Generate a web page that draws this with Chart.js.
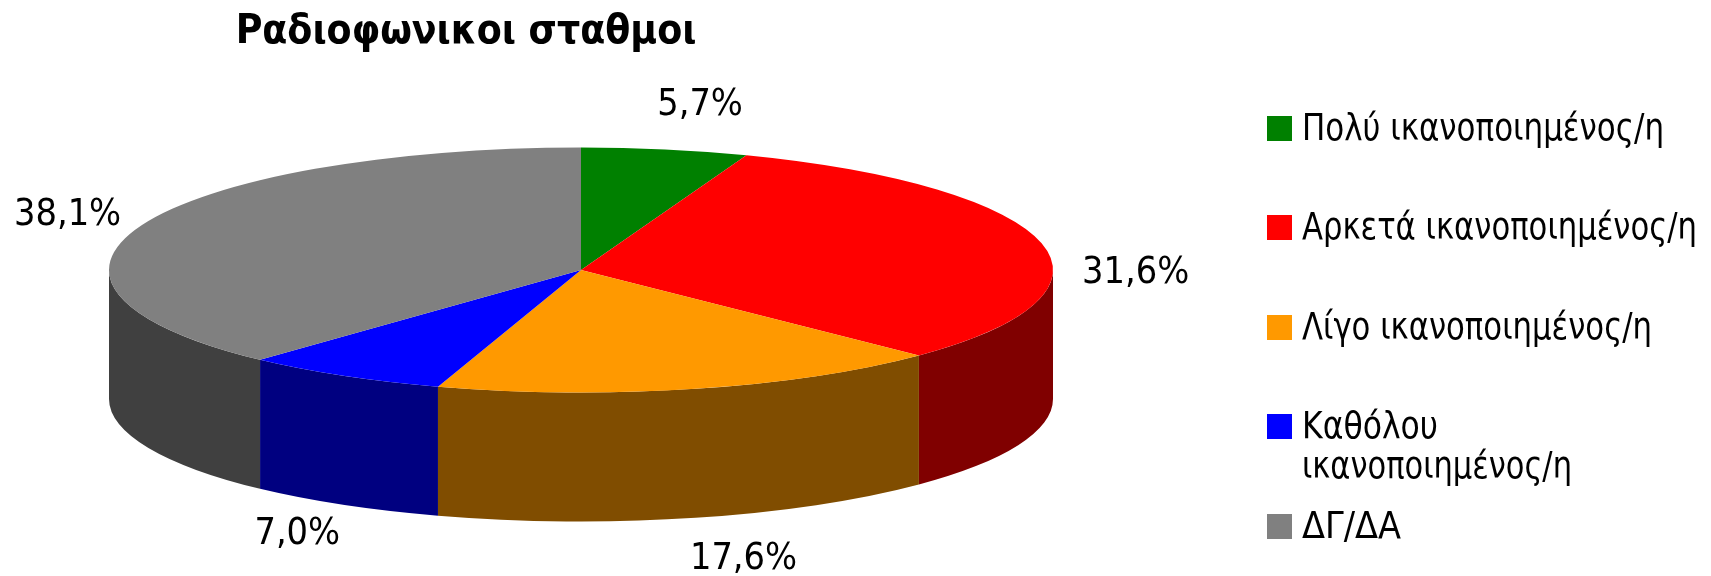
<!DOCTYPE html>
<html>
<head>
<meta charset="utf-8">
<title>Ραδιοφωνικοι σταθμοι</title>
<style>
  html, body { margin: 0; padding: 0; background: #fff; }
  canvas { display: block; }
</style>
<script src="https://cdn.jsdelivr.net/npm/chart.js@4"></script>
</head>
<body>
<canvas id="pie" width="1711" height="576"></canvas>
<script>
const chartTitle = "Ραδιοφωνικοι σταθμοι";
const categories = [
  "Πολύ ικανοποιημένος/η",
  "Αρκετά ικανοποιημένος/η",
  "Λίγο ικανοποιημένος/η",
  "Καθόλου ικανοποιημένος/η",
  "ΔΓ/ΔΑ",
];
const values = [5.7, 31.6, 17.6, 7.0, 38.1];
const sliceColors = ["#008000", "#ff0000", "#ff9900", "#0000ff", "#808080"];
const sideColors = ["#004000", "#800000", "#804d00", "#000080", "#404040"];

// where the flattened pie sits on the page
const PIE = { x: 581, y: 270, rx: 472, ry: 122.5, depth: 129 };
// label position relative to the slice's rim point
const labelNudge = [[35, -44], [94, 30], [48, 170], [-46, 158], [-74, -10]];
const legendLines = [
  ["Πολύ ικανοποιημένος/η"],
  ["Αρκετά ικανοποιημένος/η"],
  ["Λίγο ικανοποιημένος/η"],
  ["Καθόλου", "ικανοποιημένος/η"],
  ["ΔΓ/ΔΑ"],
];
// widths of the legend lines in the reference
const legendWidths = [[362], [395], [350], [136, 270], [99]];
const legendTops = [116, 215, 315, 414, 514];

const LEGEND_FONT = 'condensed 38px "DejaVu Sans"';
const LABEL_FONT = 'condensed 37.5px "DejaVu Sans"';
const TITLE_FONT = 'condensed bold 40.5px "DejaVu Sans"';

const formatPercent = (v) => `${v.toFixed(1).replace(".", ",")}%`;

// draws the side wall and squashes the round pie into an ellipse
const flatPie = {
  id: "flatPie",
  beforeDatasetsDraw(chart) {
    const ctx = chart.ctx;
    const arcs = chart.getDatasetMeta(0).data;

    arcs.forEach((arc, i) => {
      const from = Math.max(arc.startAngle, 0);
      const to = Math.min(arc.endAngle, Math.PI);
      if (from >= to) return;

      ctx.beginPath();
      ctx.ellipse(PIE.x, PIE.y, PIE.rx, PIE.ry, 0, from, to);
      ctx.ellipse(PIE.x, PIE.y + PIE.depth, PIE.rx, PIE.ry, 0, to, from, true);
      ctx.closePath();
      ctx.fillStyle = sideColors[i];
      ctx.fill();
    });

    const first = arcs[0];
    const radius = first.outerRadius;
    ctx.save();
    ctx.translate(PIE.x, PIE.y);
    ctx.scale(PIE.rx / radius, PIE.ry / radius);
    ctx.translate(-first.x, -first.y);
  },
  afterDatasetsDraw(chart) {
    chart.ctx.restore();
  },
  afterDraw(chart) {
    const ctx = chart.ctx;
    const arcs = chart.getDatasetMeta(0).data;

    ctx.save();
    ctx.fillStyle = "#000";
    ctx.textBaseline = "alphabetic";

    ctx.font = TITLE_FONT;
    ctx.textAlign = "center";
    ctx.fillText(chartTitle, 466, 43);

    ctx.font = LABEL_FONT;
    ctx.textBaseline = "middle";
    arcs.forEach((arc, i) => {
      const mid = (arc.startAngle + arc.endAngle) / 2;
      const x = PIE.x + PIE.rx * Math.cos(mid) + labelNudge[i][0];
      const y = PIE.y + PIE.ry * Math.sin(mid) + labelNudge[i][1];
      ctx.fillText(formatPercent(values[i]), x, y);
    });

    ctx.font = LEGEND_FONT;
    ctx.textAlign = "left";
    ctx.textBaseline = "alphabetic";
    legendLines.forEach((lines, i) => {
      const top = legendTops[i];
      ctx.fillStyle = sliceColors[i];
      ctx.fillRect(1267, top, 25, 25);
      ctx.fillStyle = "#000";
      lines.forEach((line, n) => {
        ctx.fillText(line, 1302, top + 24 + n * 40, legendWidths[i][n]);
      });
    });
    ctx.restore();
  },
};

new Chart(document.getElementById("pie"), {
  type: "pie",
  data: {
    labels: categories,
    datasets: [
      {
        data: values,
        backgroundColor: sliceColors,
        borderWidth: 0,
        clip: 20,
      },
    ],
  },
  options: {
    responsive: false,
    animation: false,
    plugins: {
      legend: { display: false },
      tooltip: { enabled: false },
      title: { display: false },
    },
  },
  plugins: [flatPie],
});
</script>
</body>
</html>
